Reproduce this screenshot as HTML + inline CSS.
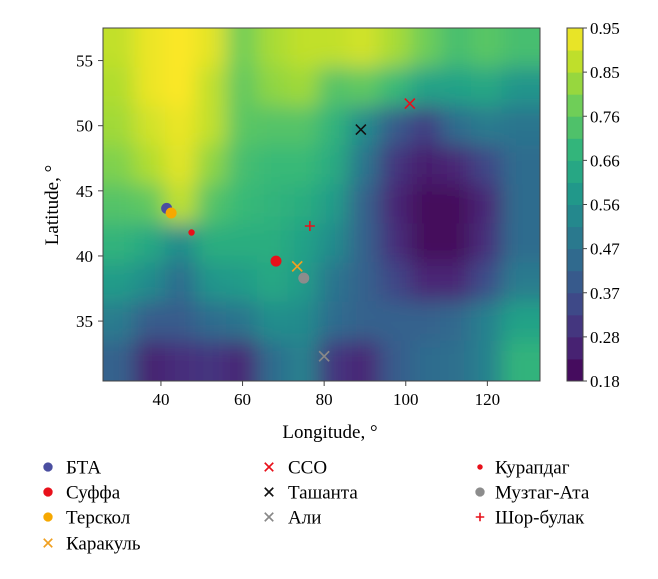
<!DOCTYPE html>
<html><head><meta charset="utf-8"><style>
body{margin:0;background:#fff;}
svg{display:block;font-family:"Liberation Serif","DejaVu Serif",serif;}
</style></head><body>
<svg id="chart" width="658" height="579" viewBox="0 0 658 579">
<defs>
<filter id="blur" x="-5%" y="-5%" width="110%" height="110%"><feGaussianBlur stdDeviation="11"/></filter>
<clipPath id="clip"><rect x="103" y="28" width="437" height="353"/></clipPath>
</defs>
<g id="map" clip-path="url(#clip)"><g id="cells" filter="url(#blur)"></g></g>
<rect x="103" y="28" width="437" height="353" fill="none" stroke="#444" stroke-width="1"/>
<g id="axes"></g>
<g id="markers"></g>
<g id="colorbar"></g>
<text x="330" y="438" font-size="19" text-anchor="middle">Longitude, °</text>
<text transform="translate(58,205) rotate(-90)" font-size="19" text-anchor="middle">Latitude, °</text>
<g id="legend"></g>
</svg>
<script>
const NS='http://www.w3.org/2000/svg';
const lonCenters=[29.75,37.25,44.75,52.25,59.75,67.25,74.75,82.25,89.75,97.25,104.75,112.25,119.75,127.25];
const latCenters=[56,53,50,47,44,41,38,35,32];
const gridValues=[
[.88,.93,.95,.92,.78,.85,.88,.88,.9,.85,.78,.72,.75,.72],
[.86,.93,.95,.88,.76,.82,.84,.74,.76,.7,.62,.62,.64,.58],
[.84,.9,.93,.88,.75,.74,.74,.68,.55,.4,.32,.45,.5,.48],
[.8,.86,.92,.82,.72,.7,.7,.65,.48,.3,.24,.26,.34,.45],
[.74,.76,.88,.74,.7,.68,.66,.6,.42,.26,.2,.2,.26,.45],
[.68,.64,.55,.66,.66,.66,.62,.55,.42,.28,.2,.2,.28,.45],
[.6,.55,.45,.58,.6,.64,.6,.48,.42,.34,.26,.26,.36,.5],
[.5,.4,.4,.45,.48,.56,.55,.45,.42,.42,.42,.44,.52,.62],
[.42,.25,.28,.3,.26,.45,.52,.3,.26,.4,.45,.46,.52,.68]];
const xTicks=[40,60,80,100,120];
const yTicks=[35,40,45,50,55];
const cbTicks=['0.95','0.85','0.76','0.66','0.56','0.47','0.37','0.28','0.18'];
const stationNames=['БТА','Суффа','Терскол','Каракуль','ССО','Ташанта','Али','Курапдаг','Музтаг-Ата','Шор-булак'];
const stationLon=[41.4,68.2,42.5,73.4,101,89,80,47.5,75,76.5];
const stationLat=[43.65,39.6,43.3,39.2,51.7,49.7,32.3,41.8,38.3,42.3];
const stationKind=['dot','dot','dot','x','x','x','x','small','dot','plus'];
const stationColor=['#4a4ea0','#e8101a','#f6a800','#f0a020','#e8101a','#111','#888','#e8101a','#8c8c8c','#e8101a'];

const lonMin=25.8,lonMax=132.9,latMin=30.4,latMax=57.5;
const X=l=>103+(l-lonMin)/(lonMax-lonMin)*437;
const Y=l=>28+(latMax-l)/(latMax-latMin)*353;
const VIR=[[68,1,84],[72,40,120],[62,74,137],[49,104,142],[38,130,142],[31,158,137],[53,183,121],[109,205,89],[180,222,44],[253,231,37]];
function vir(t){t=Math.max(0,Math.min(1,t));const p=t*9,i=Math.min(8,Math.floor(p)),f=p-i;const a=VIR[i],b=VIR[i+1];return 'rgb('+a.map((v,k)=>Math.round(v+(b[k]-v)*f)).join(',')+')';}
const vmin=0.18,vmax=0.95;
const col=v=>vir((v-vmin)/(vmax-vmin));
function el(t,a,p){const e=document.createElementNS(NS,t);for(const k in a)e.setAttribute(k,a[k]);p.appendChild(e);return e;}
const cells=document.getElementById('cells');
const dLon=7.5,dLat=3;
el('rect',{x:60,y:0,width:520,height:420,fill:col(.5)},cells);
latCenters.forEach((la,r)=>lonCenters.forEach((lo,c)=>{
  let x0=X(lo-dLon/2),x1=X(lo+dLon/2),y0=Y(la+dLat/2),y1=Y(la-dLat/2);
  if(c===0)x0-=40;if(c===lonCenters.length-1)x1+=40;if(r===0)y0-=40;if(r===latCenters.length-1)y1+=40;
  const e=el('rect',{x:x0,y:y0,width:x1-x0+0.5,height:y1-y0+0.5,fill:col(gridValues[r][c])},cells);
  
  
}));
const axes=document.getElementById('axes');
xTicks.forEach(v=>{const x=X(v);el('line',{x1:x,x2:x,y1:381,y2:386,stroke:'#444'},axes);
  const t=el('text',{x:x,y:405,'font-size':17,'text-anchor':'middle'},axes);t.textContent=v;
  });
yTicks.forEach(v=>{const y=Y(v);el('line',{x1:98,x2:103,y1:y,y2:y,stroke:'#444'},axes);
  const t=el('text',{x:93,y:y+6,'font-size':17,'text-anchor':'end'},axes);t.textContent=v;
  });
function marker(p,kind,c,x,y,s){
  if(kind==='dot')el('circle',{cx:x,cy:y,r:5.5*s,fill:c},p);
  else if(kind==='small')el('circle',{cx:x,cy:y,r:3.2*s,fill:c},p);
  else if(kind==='x'){const d=5*s;el('path',{d:`M${x-d},${y-d}L${x+d},${y+d}M${x-d},${y+d}L${x+d},${y-d}`,stroke:c,'stroke-width':1.6,fill:'none'},p);}
  else {const d=5*s;el('path',{d:`M${x-d},${y}L${x+d},${y}M${x},${y-d}L${x},${y+d}`,stroke:c,'stroke-width':1.6,fill:'none'},p);}
}
const mk=document.getElementById('markers');
stationNames.forEach((n,i)=>{const g=el('g',{},mk);
  
  marker(g,stationKind[i],stationColor[i],X(stationLon[i]),Y(stationLat[i]),1);});
const cb=document.getElementById('colorbar');
const nb=16;for(let i=0;i<nb;i++){const v=vmin+(vmax-vmin)*(i+0.5)/nb;const y0=381-(i+1)*353/nb;
  el('rect',{x:567,y:y0,width:16,height:353/nb+0.5,fill:col(v)},cb);}
el('rect',{x:567,y:28,width:16,height:353,fill:'none',stroke:'#444'},cb);
cbTicks.forEach((t,i)=>{const y=28+i*353/8;el('line',{x1:583,x2:587,y1:y,y2:y,stroke:'#444'},cb);
  const e=el('text',{x:590,y:y+6,'font-size':17},cb);e.textContent=t;
  });
const lg=document.getElementById('legend');
const legX=[48,269,480],legTX=[66,288,495],legY=[467,492,517,543];
const legCol=[0,0,0,0,1,1,1,2,2,2],legRow=[0,1,2,3,0,1,2,0,1,2];
stationNames.forEach((n,i)=>{const g=el('g',{},lg);
  
  marker(g,stationKind[i],stationColor[i],legX[legCol[i]],legY[legRow[i]],0.85);
  const t=el('text',{x:legTX[legCol[i]],y:legY[legRow[i]]+6.5,'font-size':19},g);t.textContent=n;});
</script>
</body></html>
